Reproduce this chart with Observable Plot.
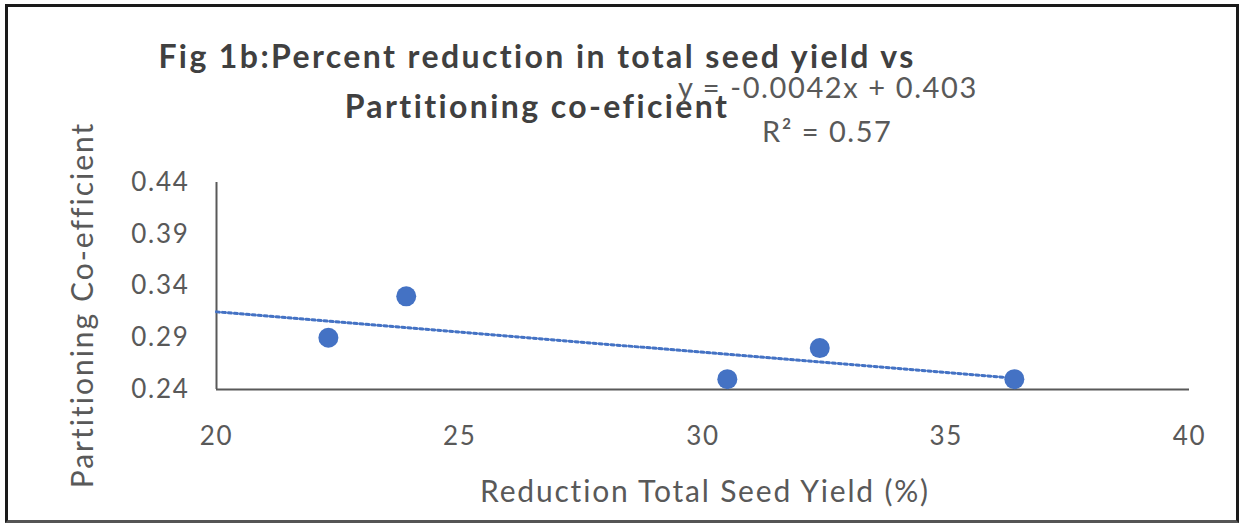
<!DOCTYPE html>
<html>
<head>
<meta charset="utf-8">
<script src="https://cdn.jsdelivr.net/npm/d3@7"></script>
<script src="https://cdn.jsdelivr.net/npm/@observablehq/plot@0.6"></script>
<style>
  html, body { margin: 0; padding: 0; background: #fff; }
  #wrap { position: relative; width: 1242px; height: 526px; overflow: hidden; font-family: Lato, "Open Sans", sans-serif; }
  #frame { position: absolute; left: 5px; top: 4px; width: 1234px; height: 519px; border: 3px solid #1a1a1a; border-bottom-color: #555; box-sizing: border-box; pointer-events: none; }
  .t { position: absolute; white-space: nowrap; line-height: 1; }
  .title { left: 0; width: 1074px; text-align: center; font-weight: bold; color: #404040; font-size: 32px; letter-spacing: 2.4px; }
  #eq1 { left: 678px; top: 72px; font-size: 29px; color: #595959; letter-spacing: 1.6px; }
  #eq2 { left: 762px; top: 116px; font-size: 29px; color: #595959; letter-spacing: 1.5px; }
  #ylab { font-size: 30px; color: #595959; letter-spacing: 2px; left: 81px; top: 305px; transform: translate(-50%, -50%) rotate(-90deg); }
  #xlab { font-size: 30px; color: #595959; letter-spacing: 1.8px; left: 0; width: 1410px; text-align: center; top: 475px; }
</style>
</head>
<body>
<div id="wrap">
  <div id="chart"></div>
  <div class="t title" style="top:40px">Fig 1b:Percent reduction in total seed yield vs</div>
  <div class="t title" style="top:90px">Partitioning co-eficient</div>
  <div class="t" id="eq1">y = -0.0042x + 0.403</div>
  <div class="t" id="eq2">R² = 0.57</div>
  <div class="t" id="ylab">Partitioning Co-efficient</div>
  <div class="t" id="xlab">Reduction Total Seed Yield (%)</div>
  <div id="frame"></div>
</div>
<script>
// Data
const reductionYield = [22.3, 23.9, 30.5, 32.4, 36.4];
const partitionCoef = [0.29, 0.33, 0.25, 0.28, 0.25];
// Trendline endpoints (as drawn in the reference)
const trendX = [20, 36.4];
const trendY = [0.315, 0.251];
const xTicks = [20, 25, 30, 35, 40];
const yTicks = [0.24, 0.29, 0.34, 0.39, 0.44];

const points = reductionYield.map((x, i) => ({x, y: partitionCoef[i]}));
const trend = trendX.map((x, i) => ({x, y: trendY[i]}));

const chart = Plot.plot({
  width: 1242,
  height: 526,
  marginLeft: 216,
  marginRight: 53,
  marginTop: 182,
  marginBottom: 137,
  style: "font-family: Lato, sans-serif; font-size: 26px; letter-spacing: 1.7px; color: #595959; background: transparent;",
  x: {domain: [20, 40], ticks: xTicks, tickSize: 0, tickPadding: 37, label: null, tickFormat: d => String(d)},
  y: {domain: [0.24, 0.44], ticks: yTicks, tickSize: 0, tickPadding: 27, label: null, tickFormat: d3.format(".2f")},
  marks: [
    Plot.ruleY([0.24], {stroke: "#595959", strokeWidth: 2}),
    Plot.ruleX([20], {stroke: "#595959", strokeWidth: 2}),
    Plot.line(trend, {x: "x", y: "y", stroke: "#4472C4", strokeWidth: 3, strokeDasharray: "3,3"}),
    Plot.dot(points, {x: "x", y: "y", r: 10, fill: "#4472C4", stroke: "none"})
  ]
});
document.getElementById("chart").appendChild(chart);
</script>
</body>
</html>
